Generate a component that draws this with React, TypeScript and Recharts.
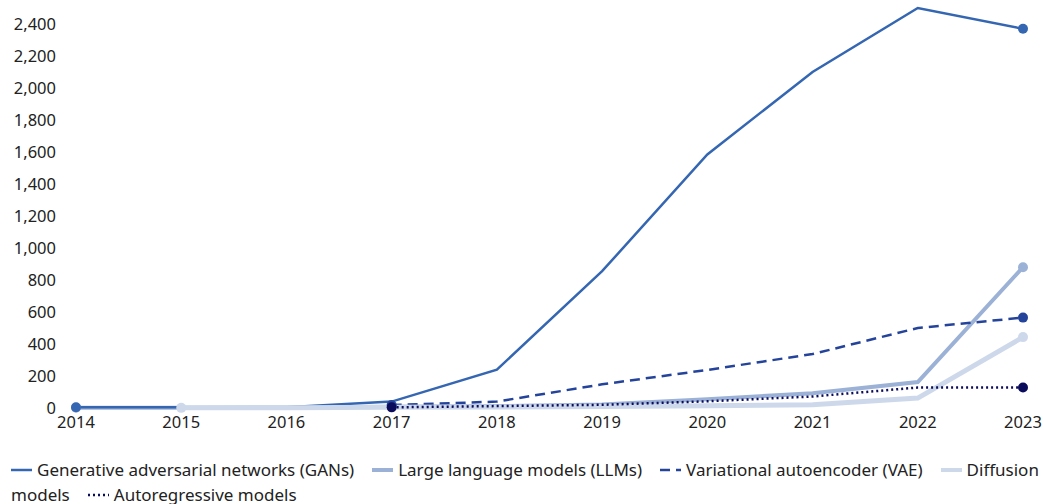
import { LineChart, Line, XAxis, YAxis } from "recharts"

const years = ["2014", "2015", "2016", "2017", "2018", "2019", "2020", "2021", "2022", "2023"]
const gans = [5, 5, 5, 40, 240, 855, 1585, 2100, 2500, 2370]
const llms = [2, 2, 3, 8, 12, 22, 55, 92, 162, 880]
const vae = [null, null, null, 18, 40, 148, 238, 337, 500, 565]
const diffusion = [null, 1, 2, 4, 6, 9, 14, 20, 62, 443]
const autoregressive = [null, null, null, 4, 12, 20, 42, 72, 128, 128]
const yTicks = [0, 200, 400, 600, 800, 1000, 1200, 1400, 1600, 1800, 2000, 2200, 2400]

const data = years.map((year, i) => ({
  year,
  gans: gans[i],
  llms: llms[i],
  vae: vae[i],
  diffusion: diffusion[i],
  autoregressive: autoregressive[i],
}))

const series = [
  { key: "llms", name: "Large language models (LLMs)", color: "#9cb1d6", width: 4, dash: undefined },
  { key: "gans", name: "Generative adversarial networks (GANs)", color: "#3466b2", width: 2.5, dash: undefined },
  { key: "vae", name: "Variational autoencoder (VAE)", color: "#24439b", width: 2.5, dash: "10 6" },
  { key: "diffusion", name: "Diffusion models", color: "#cdd9eb", width: 5, dash: undefined },
  { key: "autoregressive", name: "Autoregressive models", color: "#0b0b5c", width: 2.5, dash: "2 3" },
]

const legendOrder = ["gans", "llms", "vae", "diffusion", "autoregressive"]

// dots only on the first and last point of each series
const endDot = (key: string, color: string) => (props: any) => {
  const { cx, cy, index } = props
  const vals = data.map((d: any) => d[key])
  const first = vals.findIndex((v) => v != null)
  const last = vals.length - 1
  if (cy == null || (index !== first && index !== last)) return <g key={`${key}-${index}`} />
  return <circle key={`${key}-${index}`} cx={cx} cy={cy} r={5} fill={color} stroke="none" />
}

function LegendMark({ color, width, dash }: { color: string; width: number; dash?: string }) {
  return (
    <svg width={21} height={10} style={{ verticalAlign: "middle", marginRight: 5, marginTop: -3 }}>
      <line x1={0} y1={5} x2={21} y2={5} stroke={color} strokeWidth={Math.min(width, 4)} strokeDasharray={dash} />
    </svg>
  )
}

export default function App() {
  return (
    <div style={{ width: 1044, height: 504, fontFamily: "'Noto Sans', sans-serif", color: "#222" }}>
      <style>{"body{margin:0}"}</style>
      <LineChart width={1044} height={440} data={data} margin={{ top: 8, right: 21, left: 0, bottom: 0 }}>
        <XAxis
          dataKey="year"
          axisLine={false}
          tickLine={false}
          height={32}
          tick={{ fontSize: 16.5, fill: "#222", fontFamily: "'Noto Sans', sans-serif" }}
          tickMargin={2}
          interval={0}
        />
        <YAxis
          domain={[0, 2500]}
          ticks={yTicks}
          width={76}
          axisLine={false}
          tickLine={false}
          tickMargin={14}
          interval={0}
          tick={{ fontSize: 16.5, fill: "#222", fontFamily: "'Noto Sans', sans-serif" }}
          tickFormatter={(v: number) => v.toLocaleString("en-US")}
        />
        {series.map((s) => (
          <Line
            key={s.key}
            type="linear"
            dataKey={s.key}
            name={s.name}
            stroke={s.color}
            strokeWidth={s.width}
            strokeDasharray={s.dash}
            dot={endDot(s.key, s.color)}
            activeDot={false}
            connectNulls={false}
            isAnimationActive={false}
          />
        ))}
      </LineChart>
      <div style={{ fontSize: 17, lineHeight: "25px", paddingLeft: 11, marginTop: 17, width: 1033 }}>
        {legendOrder.map((k) => {
          const s = series.find((x) => x.key === k)!
          return (
            <span key={k} style={{ marginRight: 18 }}>
              <LegendMark color={s.color} width={s.width} dash={s.dash} />
              {s.name}
            </span>
          )
        })}
      </div>
    </div>
  )
}
